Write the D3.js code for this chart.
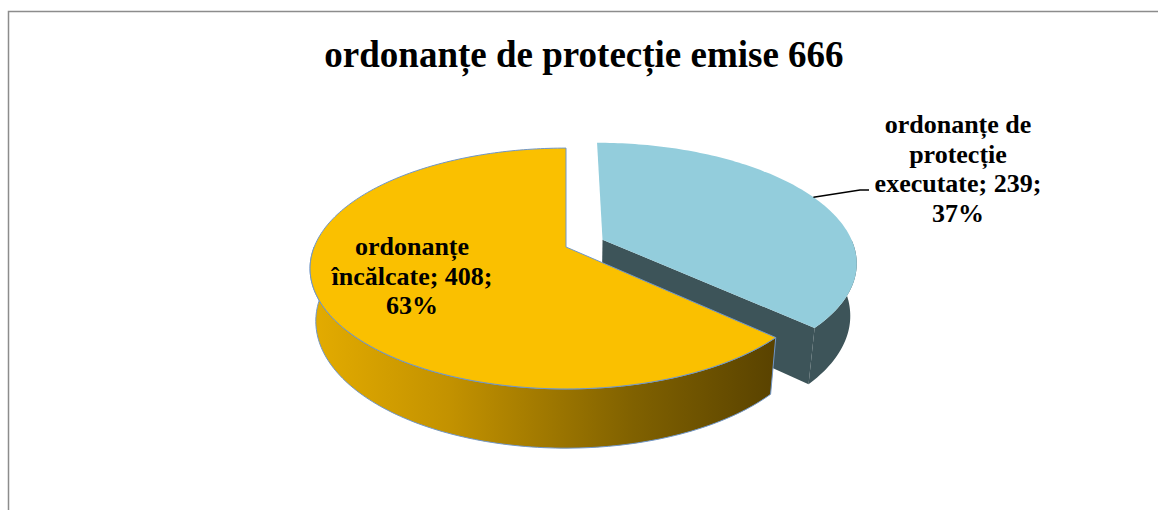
<!DOCTYPE html>
<html>
<head>
<meta charset="utf-8">
<script src="https://cdn.jsdelivr.net/npm/d3@7"></script>
<style>
  body { margin: 0; background: #fff; }
  text { font-family: "Liberation Serif", "Times New Roman", serif; font-weight: bold; }
</style>
</head>
<body>
<div id="chart"></div>
<script>
// chart data
var chartTitle = "ordonanțe de protecție emise 666";
var categories = ["ordonanțe de\nprotecție\nexecutate", "ordonanțe\nîncălcate"];
var values = [239, 408];
var explode = [0.16, 0];   // how far each slice is pulled out (in radius units)

var topColors = ["#93CDDC", "#FAC000"];
var sideColors = ["#3D5459", "url(#wallGrad)"];

var width = 1158, height = 510;

var svg = d3.select("#chart").append("svg")
    .attr("width", width)
    .attr("height", height);

svg.append("rect").attr("width", width).attr("height", height).attr("fill", "#fff");

// chart area border (left and top visible)
svg.append("path")
    .attr("d", "M8.5," + height + "V11.5H" + width)
    .attr("fill", "none")
    .attr("stroke", "#8c8c8c")
    .attr("stroke-width", 1.5);

// gradient for the front wall of the orange slice
var grad = svg.append("defs").append("linearGradient")
    .attr("id", "wallGrad")
    .attr("gradientUnits", "userSpaceOnUse")
    .attr("x1", 310).attr("y1", 0).attr("x2", 772).attr("y2", 0);
grad.append("stop").attr("offset", 0).attr("stop-color", "#E4AC00");
grad.append("stop").attr("offset", 0.3).attr("stop-color", "#C39200");
grad.append("stop").attr("offset", 0.7).attr("stop-color", "#806100");
grad.append("stop").attr("offset", 1).attr("stop-color", "#5A4300");

// title
svg.append("text")
    .attr("x", 584)
    .attr("y", 67)
    .attr("text-anchor", "middle")
    .attr("font-size", 37)
    .text(chartTitle);

// simple perspective camera looking down on the pie
var cx = 566, cy = 247;          // screen position of the pie centre
var S = 1249, D = 4.96;          // focal scale and camera distance
var sinP = 0.463, cosP = 0.886;  // elevation angle
var depthH = 0.238;              // pie thickness

function proj(x, y, z) {
    var up = y * cosP - z * sinP;
    var dist = D - (y * sinP + z * cosP);
    return [cx + S * x / dist, cy - S * up / dist];
}

var pie = d3.pie().sort(null).value(function(d) { return d; });
var arcs = pie(values);

arcs.forEach(function(d, i) {
    var mid = (d.startAngle + d.endAngle) / 2;
    d.ox = explode[i] * Math.sin(mid);
    d.oz = -explode[i] * Math.cos(mid);
});

function rim(d, a, y) {
    return proj(d.ox + Math.sin(a), y, d.oz - Math.cos(a));
}
function apex(d, y) {
    return proj(d.ox, y, d.oz);
}
function arcPts(d, a0, a1, y) {
    var n = Math.max(2, Math.ceil(Math.abs(a1 - a0) / 0.02));
    return d3.range(n + 1).map(function(k) { return rim(d, a0 + (a1 - a0) * k / n, y); });
}

var line = d3.line();
function closed(pts) { return line(pts) + "Z"; }

var g = svg.append("g");
var outline = "#7096C8";

// blue slice: end face, outer wall, then top
var b = arcs[0];
g.append("path")
    .attr("d", closed([apex(b, 0), rim(b, b.endAngle, 0), rim(b, b.endAngle, -depthH), apex(b, -depthH)]))
    .attr("fill", sideColors[0]);
g.append("path")
    .attr("d", closed(arcPts(b, Math.PI / 2, b.endAngle, 0).concat(arcPts(b, Math.PI / 2, b.endAngle, -depthH).reverse())))
    .attr("fill", sideColors[0]);
g.append("path")
    .attr("d", closed([apex(b, 0)].concat(arcPts(b, b.startAngle, b.endAngle, 0))))
    .attr("fill", topColors[0]);

// orange slice: front wall, then top
var o = arcs[1];
g.append("path")
    .attr("d", closed(arcPts(o, o.startAngle, 3 * Math.PI / 2, 0).concat(arcPts(o, o.startAngle, 3 * Math.PI / 2, -depthH).reverse())))
    .attr("fill", sideColors[1])
    .attr("stroke", outline)
    .attr("stroke-width", 1);
g.append("path")
    .attr("d", closed([apex(o, 0)].concat(arcPts(o, o.startAngle, o.endAngle, 0))))
    .attr("fill", topColors[1])
    .attr("stroke", outline)
    .attr("stroke-width", 1);

// data labels
var total = d3.sum(values);
function labelLines(i) {
    var pct = Math.round(values[i] / total * 100);
    return (categories[i] + "; " + values[i] + ";\n" + pct + "%").split("\n");
}
var labelPos = [[958, 133], [412, 255]];
var lineStep = 29.5;

arcs.forEach(function(d, i) {
    var t = svg.append("text")
        .attr("text-anchor", "middle")
        .attr("font-size", 26)
        .attr("fill", "#000");
    labelLines(i).forEach(function(s, k) {
        t.append("tspan")
            .attr("x", labelPos[i][0])
            .attr("y", labelPos[i][1] + k * lineStep)
            .text(s);
    });
});

// leader line for the blue slice, from the rim at the slice bisector
var bMid = (b.startAngle + b.endAngle) / 2;
var p0 = rim(b, bMid, 0);
svg.append("path")
    .attr("d", line([p0, [860, 190], [869, 190]]))
    .attr("fill", "none")
    .attr("stroke", "#000")
    .attr("stroke-width", 1.5);
</script>
</body>
</html>
